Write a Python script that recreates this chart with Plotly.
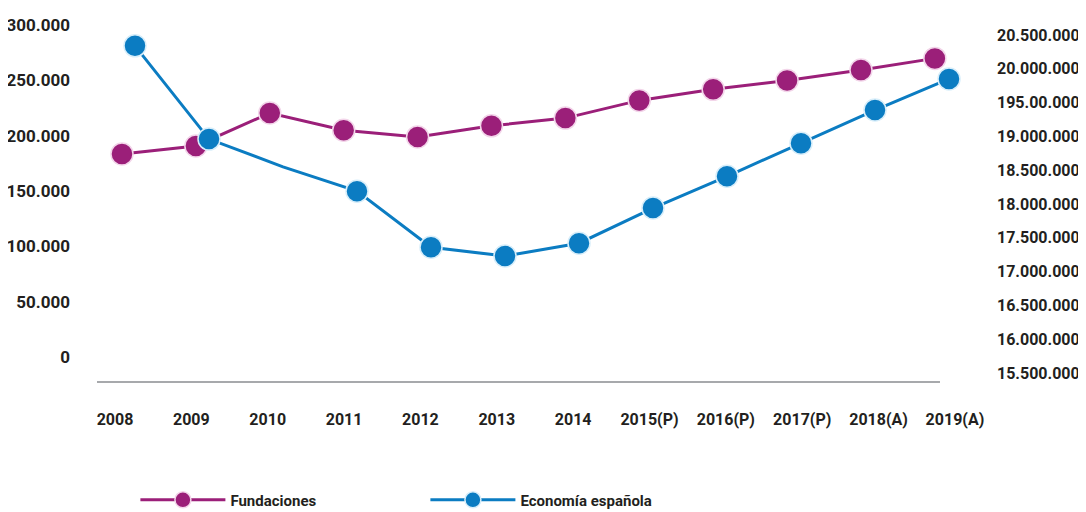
import plotly.graph_objects as go

categories = ["2008", "2009", "2010", "2011", "2012", "2013", "2014",
              "2015(P)", "2016(P)", "2017(P)", "2018(A)", "2019(A)"]
fundaciones = [183500, 190800, 220600, 205000, 199000, 209000, 216000,
               232000, 242000, 250000, 259500, 270000]
economia = [20340000, 18960000, 18550000, 18190000, 17360000, 17230000,
            17420000, 17940000, 18410000, 18900000, 19390000, 19850000]
economia_marker_sizes = [22, 22, 0, 22, 22, 22, 22, 22, 22, 22, 22, 22]

left_tickvals = [0, 50000, 100000, 150000, 200000, 250000, 300000]
left_ticktext = ["0", "50.000", "100.000", "150.000", "200.000", "250.000", "300.000"]
right_tickvals = [15500000, 16000000, 16500000, 17000000, 17500000, 18000000,
                  18500000, 19000000, 19500000, 20000000, 20500000]
right_ticktext = ["15.500.000", "16.000.000", "16.500.000", "17.000.000", "17.500.000",
                  "18.000.000", "18.500.000", "19.000.000", "195.00.000", "20.000.000",
                  "20.500.000"]

PURPLE = "#9b1f79"
BLUE = "#0b7cc2"
TEXT = "#231f20"
FONT = "Roboto, Liberation Sans, sans-serif"

fig = go.Figure()

# invisible trace carrying the category labels on the main x axis
fig.add_trace(go.Scatter(x=categories, y=[None] * len(categories), xaxis="x", yaxis="y",
                         showlegend=False, hoverinfo="skip", mode="lines"))

fig.add_trace(go.Scatter(
    x=categories, y=fundaciones, name="Fundaciones", xaxis="x2", yaxis="y",
    mode="lines+markers",
    line=dict(color=PURPLE, width=3),
    marker=dict(size=22, color=PURPLE, opacity=1, line=dict(color="#f3d6ea", width=1.5)),
))
fig.add_trace(go.Scatter(
    x=categories, y=economia, name="Economía española", xaxis="x3", yaxis="y2",
    mode="lines+markers",
    line=dict(color=BLUE, width=3),
    marker=dict(size=economia_marker_sizes, color=BLUE, opacity=1,
                line=dict(color="#d8eefa", width=1.5)),
))

# the page body adds an 8px offset, so the figure is 8px smaller in each direction
fig.update_layout(
    width=1078, height=504,
    margin=dict(l=89, r=96, t=12, b=130),
    paper_bgcolor="white", plot_bgcolor="white",
    font=dict(family=FONT, size=16, color=TEXT),
    xaxis=dict(type="category", categoryorder="array", categoryarray=categories,
               range=[-0.2357, 11.459], showgrid=False, zeroline=False, showline=False,
               ticks="", ticklabelstandoff=26, automargin=False,
               tickfont=dict(family=FONT, size=16, color=TEXT, weight="bold")),
    xaxis2=dict(type="category", categoryorder="array", categoryarray=categories,
                overlaying="x", anchor="y", range=[-0.338, 11.746], visible=False),
    xaxis3=dict(type="category", categoryorder="array", categoryarray=categories,
                overlaying="x", anchor="y2", range=[-0.5135, 11.554], visible=False),
    yaxis=dict(range=[-22600, 304700], tickvals=left_tickvals, ticktext=left_ticktext,
               showgrid=False, zeroline=False, showline=False, ticks="",
               ticklabelstandoff=26, automargin=False,
               tickfont=dict(family=FONT, size=17, color=TEXT, weight="bold")),
    yaxis2=dict(range=[15367000, 20722000], tickvals=right_tickvals, ticktext=right_ticktext,
                overlaying="y", side="right", anchor="x",
                showgrid=False, zeroline=False, showline=False, ticks="",
                ticklabelstandoff=6, automargin=False,
                tickfont=dict(family=FONT, size=16, color=TEXT, weight="bold")),
    legend=dict(orientation="h", x=0.043, xanchor="left",
                yref="container", y=0.0238, yanchor="middle",
                itemwidth=85, entrywidth=190, entrywidthmode="pixels",
                font=dict(family=FONT, size=15, color=TEXT, weight="bold"),
                bgcolor="rgba(0,0,0,0)"),
    shapes=[dict(type="line", xref="paper", yref="paper", x0=0, x1=0.944, y0=0, y1=0,
                 line=dict(color="#a7a9ac", width=2))],
    showlegend=True,
)

fig.write_html("out.html")
